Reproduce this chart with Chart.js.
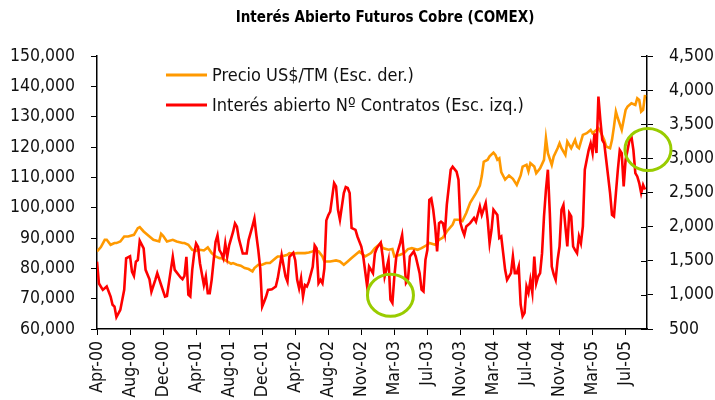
<!DOCTYPE html>
<html lang="es">
<head>
<meta charset="UTF-8">
<title>Interés Abierto Futuros Cobre (COMEX)</title>
<script src="https://cdn.jsdelivr.net/npm/chart.js@4.4.1/dist/chart.umd.min.js"></script>
<style>
  html, body { margin: 0; padding: 0; background: #fff; }
  #wrap { width: 715px; height: 400px; position: relative; }
</style>
</head>
<body>
<div id="wrap"><canvas id="myChart" width="715" height="400"></canvas></div>
<script>
// week index counted from Apr-00, one tick label every 17 weeks
var tickLabels = ['Apr-00', 'Aug-00', 'Dec-00', 'Apr-01', 'Aug-01', 'Dec-01', 'Apr-02', 'Aug-02', 'Nov-02',
                  'Mar-03', 'Jul-03', 'Nov-03', 'Mar-04', 'Jul-04', 'Nov-04', 'Mar-05', 'Jul-05'];
var tickEvery = 17;
var lastWeek = 283;

var seriesNames = ['Precio US$/TM (Esc. der.)', 'Interés abierto Nº Contratos (Esc. izq.)'];

// open interest, contracts (left scale)
var oiWeeks = [0, 1, 3, 5, 7, 8, 9, 10, 12, 14, 15, 17, 18, 19, 20, 21, 22, 24, 25, 27, 28, 30, 31, 33, 35, 36,
  38, 39, 40, 43, 44, 45, 46, 47, 48, 49, 50, 51, 52, 53, 55, 56, 57, 58, 59, 61, 62, 63, 64, 65, 66, 67, 68,
  70, 71, 72, 73, 75, 77, 78, 80, 81, 82, 83, 84, 85, 86, 87, 88, 90, 92, 93, 95, 97, 98, 99, 101, 102, 103,
  104, 105, 106, 107, 108, 109, 111, 112, 113, 114, 115, 116, 117, 118, 119, 120, 122, 123, 124, 125, 127,
  128, 129, 130, 131, 133, 134, 136, 137, 139, 140, 142, 143, 144, 146, 147, 148, 150, 151, 152, 153, 154,
  156, 157, 158, 159, 160, 161, 163, 164, 166, 167, 168, 169, 170, 171, 172, 173, 174, 175, 176, 177, 178,
  179, 180, 182, 183, 185, 186, 187, 188, 189, 190, 192, 194, 195, 197, 198, 200, 201, 202, 203, 204, 206,
  207, 208, 209, 210, 211, 213, 214, 215, 216, 217, 218, 219, 220, 221, 222, 223, 224, 225, 226, 227, 228,
  229, 230, 231, 232, 233, 234, 235, 236, 237, 238, 239, 240, 241, 242, 243, 244, 245, 246, 247, 248, 249,
  250, 251, 252, 253, 254, 255, 256, 257, 258, 259, 260, 261, 262, 263, 264, 265, 266, 267, 268, 269, 270,
  271, 272, 273, 274, 275, 276, 277, 278, 279, 280, 281, 282];
var oiValues = [82200, 75000, 72900, 74000, 70700, 68000, 67400, 63900, 66300, 72900, 83300, 84000, 78900,
  77500, 82200, 82700, 89100, 86600, 79500, 76400, 72300, 76200, 78400, 74500, 70700, 70900,
  79500, 83800, 79500, 77000, 76400, 77500, 83800, 71300, 70700, 79500, 84900, 88200, 87100, 81600, 74500,
  77300, 71800, 71800, 76200, 88700, 90900, 86000, 84900, 83300, 88200, 83800, 87600,
  92000, 94800, 93700, 89800, 84900, 84900, 89300, 93900, 96400, 90900, 86000, 80000, 67400, 69000, 70700,
  72900, 73100, 74000, 76700, 84400, 77300, 75600, 83800, 85100, 82700, 76200,
  73400, 76700, 70700, 74500, 74000, 75600, 80500, 87600, 86600, 75100, 76200, 75100, 80000, 95800, 97500,
  98700, 108100, 107000, 99300, 96000, 104800,
  106800, 106500, 104800, 93300, 92700, 90500, 87200, 83900, 74000, 80600, 78400, 85000, 86700, 88500, 83900,
  77300, 82800, 69700, 68600, 77300, 83900,
  88300, 91000, 83900, 75200, 76200, 83900, 85600, 83900, 78400, 73000, 72400, 82800, 86100, 102600, 103100,
  99300, 93800, 85600, 94900, 95400, 94900,
  91600, 101000, 112500, 113500, 111900, 109200, 95000, 92700, 91000, 93800, 94900, 96600, 95400, 100400,
  97600, 101500, 96000, 88300, 92700, 99300, 97600,
  90000, 90500, 85000, 79500, 76200, 78400, 83900, 78400, 78400, 80600, 68000, 64200, 65300, 74000, 71900,
  76200, 72000, 83900, 75000, 77300, 78400,
  85000, 97100, 105900, 112500, 98200, 80600, 78000, 76200, 82800, 87200, 99300, 100900, 93800, 87200, 98200,
  97100, 87200, 86000, 85000, 90500, 88300,
  93800, 112500, 115800, 119000, 121200, 118000, 124500, 118000, 136600, 128900, 122300, 121200, 115800,
  110300, 104800, 97600, 97100, 104800, 112500, 119000, 118000,
  107000, 115800, 119000, 122300, 123400, 119000, 111400, 110300, 108100, 104800, 107500, 106000];

// copper price, US$/TM (right scale)
var priceWeeks = [0, 2, 4, 5, 7, 9, 10, 12, 14, 16, 19, 21, 22, 24, 27, 29, 32, 33, 34, 36, 39, 41, 44, 45,
  47, 49, 51, 53, 55, 57, 59, 61, 63, 64, 67, 69, 70, 72, 74, 76, 78, 80, 81, 83, 85, 87, 89, 92, 93, 95, 98,
  99, 101, 103, 105, 107, 109, 111, 112, 114, 116, 117, 120, 123, 125, 127, 129, 131, 133, 135, 138, 141,
  143, 146, 147, 150, 152, 153, 156, 158, 160, 162, 165, 167, 170, 171, 174, 176, 178, 180, 183, 184, 186,
  188, 190, 192, 195, 197, 198, 199, 201, 202, 204, 205, 206, 207, 208, 210, 212, 214, 216, 218, 219, 221,
  222, 223, 225, 226, 228, 230, 231, 232, 234, 235, 237, 238, 239, 241, 242, 244, 246, 247, 248, 250, 252,
  254, 255, 256, 258, 259, 261, 262, 264, 265, 266, 267, 268, 270, 271, 272, 273, 275, 277, 278, 279, 280,
  281, 282];
var priceValues = [1637, 1700, 1807, 1807, 1734, 1759, 1759, 1783, 1856, 1856, 1880, 1978, 1993, 1929, 1856,
  1807, 1783, 1895, 1866, 1783, 1807, 1783, 1759, 1759,
  1734, 1661, 1646, 1661, 1651, 1695, 1612, 1563, 1539, 1539, 1490, 1456, 1466, 1441, 1427, 1393, 1378, 1344,
  1393, 1441, 1441, 1466, 1466, 1539, 1563, 1563, 1588,
  1612, 1602, 1612, 1612, 1612, 1622, 1637, 1661, 1637, 1563, 1490, 1490, 1505, 1490, 1441, 1490, 1540, 1588,
  1637, 1563, 1612,
  1685, 1759, 1685, 1661, 1671, 1563, 1588, 1612, 1671, 1685, 1661, 1685, 1734, 1759, 1734, 1807, 1840, 1929,
  2030, 2100, 2100,
  2080, 2200, 2350, 2490, 2600, 2740, 2950, 2980, 3030, 3085, 3050, 2980, 3000, 2800, 2690, 2750, 2700, 2612,
  2750, 2880, 2905,
  2810, 2930, 2880, 2783, 2856, 2978, 3296, 3076, 2905, 3027, 3149, 3222, 3149, 3051, 3247, 3149, 3271, 3173,
  3149, 3344, 3369,
  3417, 3369, 3393, 3442, 3393, 3271, 3173, 3149, 3271, 3466, 3685, 3588, 3417, 3563, 3710, 3758, 3808, 3783,
  3881, 3856, 3685,
  3710, 3930];

// green circles drawn on the original (week, contracts)
var markWeeks = [151, 283.5];
var markValues = [71100, 119200];

function pairs(xs, ys) {
    var out = [];
    for (var i = 0; i < xs.length; i++) {
        out.push({x: xs[i], y: ys[i]});
    }
    return out;
}

function onTick(v) {
    var k = v / tickEvery;
    return Math.abs(k - Math.round(k)) < 1e-6;
}

var narrow = "'DejaVu Sans Condensed', 'Liberation Sans', sans-serif";
var orange = '#FF9900';
var red = '#FF0000';

var extras = {
    id: 'extras',
    afterDatasetsDraw: function (chart) {
        var ctx = chart.ctx;
        var area = chart.chartArea;
        var x = chart.scales.x, y = chart.scales.y, y1 = chart.scales.y1;

        // right axis ticks cross the axis line
        ctx.save();
        ctx.strokeStyle = '#000';
        ctx.lineWidth = 1;
        y1.ticks.forEach(function (t) {
            var py = Math.round(y1.getPixelForValue(t.value)) + 0.5;
            ctx.beginPath();
            ctx.moveTo(area.right - 6, py);
            ctx.lineTo(area.right, py);
            ctx.stroke();
        });

        // circles
        ctx.strokeStyle = '#99CC00';
        ctx.lineWidth = 3;
        for (var i = 0; i < markWeeks.length; i++) {
            ctx.beginPath();
            ctx.ellipse(x.getPixelForValue(markWeeks[i]), y.getPixelForValue(markValues[i]), 23, 21, 0, 0, Math.PI * 2);
            ctx.stroke();
        }

        // title
        ctx.fillStyle = '#000';
        ctx.font = 'bold 15px ' + narrow;
        ctx.textAlign = 'center';
        ctx.textBaseline = 'middle';
        ctx.fillText('Interés Abierto Futuros Cobre (COMEX)', (area.left + area.right) / 2 + 13, 18);

        // legend
        var colors = [orange, red];
        ctx.font = '18px ' + narrow;
        ctx.textAlign = 'left';
        for (var j = 0; j < seriesNames.length; j++) {
            var ly = area.top + 19 + j * 30;
            ctx.strokeStyle = colors[j];
            ctx.lineWidth = 3;
            ctx.beginPath();
            ctx.moveTo(area.left + 69, ly);
            ctx.lineTo(area.left + 110, ly);
            ctx.stroke();
            ctx.fillStyle = '#111';
            ctx.fillText(seriesNames[j], area.left + 115, ly + 1);
        }
        ctx.restore();
    }
};

var tickFont = {family: narrow, size: 17.5};

var ctx = document.getElementById('myChart').getContext('2d');
var myChart = new Chart(ctx, {
    type: 'line',
    data: {
        datasets: [
            {
                label: seriesNames[1],
                data: pairs(oiWeeks, oiValues),
                yAxisID: 'y',
                borderColor: red,
                borderWidth: 2.6,
                pointRadius: 0,
                tension: 0,
                order: 0
            },
            {
                label: seriesNames[0],
                data: pairs(priceWeeks, priceValues),
                yAxisID: 'y1',
                borderColor: orange,
                borderWidth: 2.6,
                pointRadius: 0,
                tension: 0,
                order: 1
            }
        ]
    },
    options: {
        responsive: false,
        animation: false,
        layout: {padding: {top: 56, left: 0, right: 0, bottom: 0}},
        plugins: {
            legend: {display: false},
            title: {display: false},
            tooltip: {enabled: false}
        },
        scales: {
            x: {
                type: 'linear',
                min: 0,
                max: lastWeek,
                afterFit: function (s) { s.height = 71; },
                afterBuildTicks: function (s) {
                    s.ticks = s.ticks.filter(function (t) { return onTick(t.value); });
                },
                ticks: {
                    stepSize: tickEvery,
                    autoSkip: false,
                    minRotation: 90,
                    maxRotation: 90,
                    padding: 6,
                    color: '#111',
                    font: tickFont,
                    callback: function (v) { return tickLabels[Math.round(v / tickEvery)] || ''; }
                },
                grid: {drawOnChartArea: false, drawTicks: true, tickLength: 6, color: '#000', lineWidth: 1},
                border: {color: '#000', width: 1.5}
            },
            y: {
                position: 'left',
                min: 60000,
                max: 150000,
                afterFit: function (s) { s.width = 97; },
                ticks: {
                    stepSize: 10000,
                    padding: 16,
                    color: '#111',
                    font: tickFont,
                    callback: function (v) { return v.toLocaleString('en-US'); }
                },
                grid: {drawOnChartArea: false, drawTicks: true, tickLength: 6, color: '#000', lineWidth: 1},
                border: {color: '#000', width: 1.5}
            },
            y1: {
                position: 'right',
                min: 500,
                max: 4500,
                afterFit: function (s) { s.width = 68; },
                ticks: {
                    stepSize: 500,
                    padding: 16,
                    color: '#111',
                    font: tickFont,
                    callback: function (v) { return v.toLocaleString('en-US'); }
                },
                grid: {drawOnChartArea: false, drawTicks: true, tickLength: 6, color: '#000', lineWidth: 1},
                border: {color: '#000', width: 1.5}
            }
        }
    },
    plugins: [extras]
});
</script>
</body>
</html>
